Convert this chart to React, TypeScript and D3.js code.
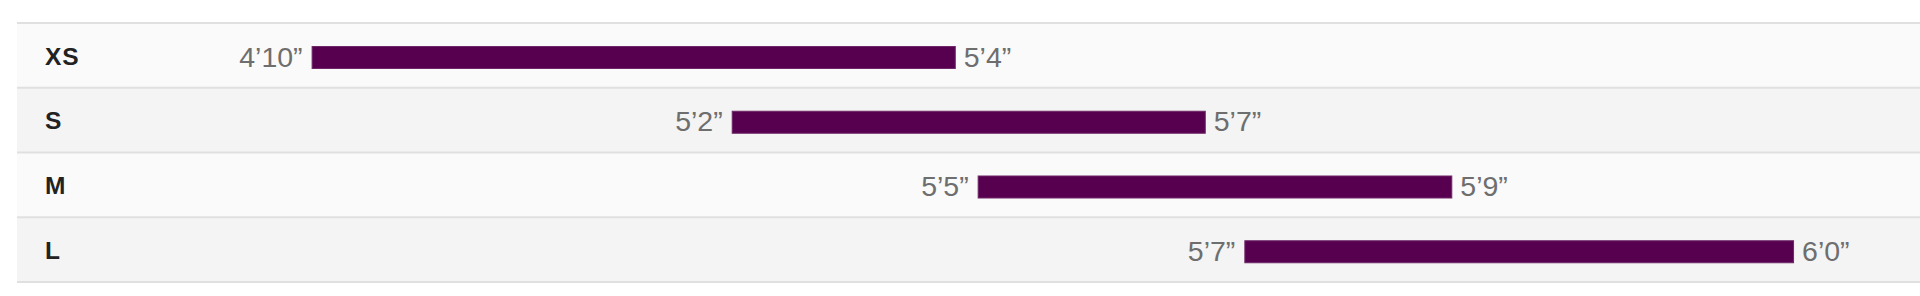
import React from "react";
import * as d3 from "d3";

// ---- data ----
const sizes = ["XS", "S", "M", "L"];
// heights in inches
const minHeights = [58, 62, 65, 67];
const maxHeights = [64, 67, 69, 72];
// bar extents, as percent of the chart track
const barStartPct = [16.23, 38.11, 50.92, 64.81];
const barEndPct = [49.78, 62.8, 75.64, 93.44];

const W = 1920;
const H = 296;

const fmt = (inches: number) => `${Math.floor(inches / 12)}\u2019${inches % 12}\u201D`;

export default function App() {
  const x = d3.scaleLinear().domain([0, 100]).range([0, W]);
  const y = d3.scaleBand<string>().domain(sizes).range([23, 282]).paddingInner(0).paddingOuter(0);
  const bw = y.bandwidth();
  const rowLeft = 17;
  const rows = sizes.map((s, i) => ({
    size: s,
    min: minHeights[i],
    max: maxHeights[i],
    x0: x(barStartPct[i]),
    x1: x(barEndPct[i]),
    top: y(s) as number,
    i,
  }));
  return (
    <svg
      width={W}
      height={H}
      style={{ position: "absolute", left: 0, top: 0, display: "block", background: "#fff" }}
      fontFamily="'Liberation Sans', Arial, Helvetica, sans-serif"
    >
      {rows.map((r) => (
        <rect key={"bg" + r.size} x={rowLeft} y={r.top} width={W - rowLeft} height={bw} fill={r.i % 2 === 0 ? "#fafafa" : "#f4f4f4"} />
      ))}
      {[...sizes.map((s) => y(s) as number), y.range()[1]].map((yy, k) => (
        <line key={"ln" + k} x1={rowLeft} x2={W} y1={yy} y2={yy} stroke="#e0e0e0" strokeWidth={2} />
      ))}
      {rows.map((r) => (
        <g key={r.size}>
          <text x={45} y={r.top + 41.5} fontSize={24.5} fontWeight="bold" fill="#222" letterSpacing={1}>
            {r.size}
          </text>
          <rect x={r.x0 + 0.5} y={r.top + 23.5} width={r.x1 - r.x0 - 1} height={22} fill="#570050" stroke="#6e2767" strokeWidth={1} />
          <text x={r.x0 - 9} y={r.top + 43.5} fontSize={28.5} fill="#6e6e6e" textAnchor="end">
            {fmt(r.min)}
          </text>
          <text x={r.x1 + 8} y={r.top + 43.5} fontSize={28.5} fill="#6e6e6e">
            {fmt(r.max)}
          </text>
        </g>
      ))}
    </svg>
  );
}
